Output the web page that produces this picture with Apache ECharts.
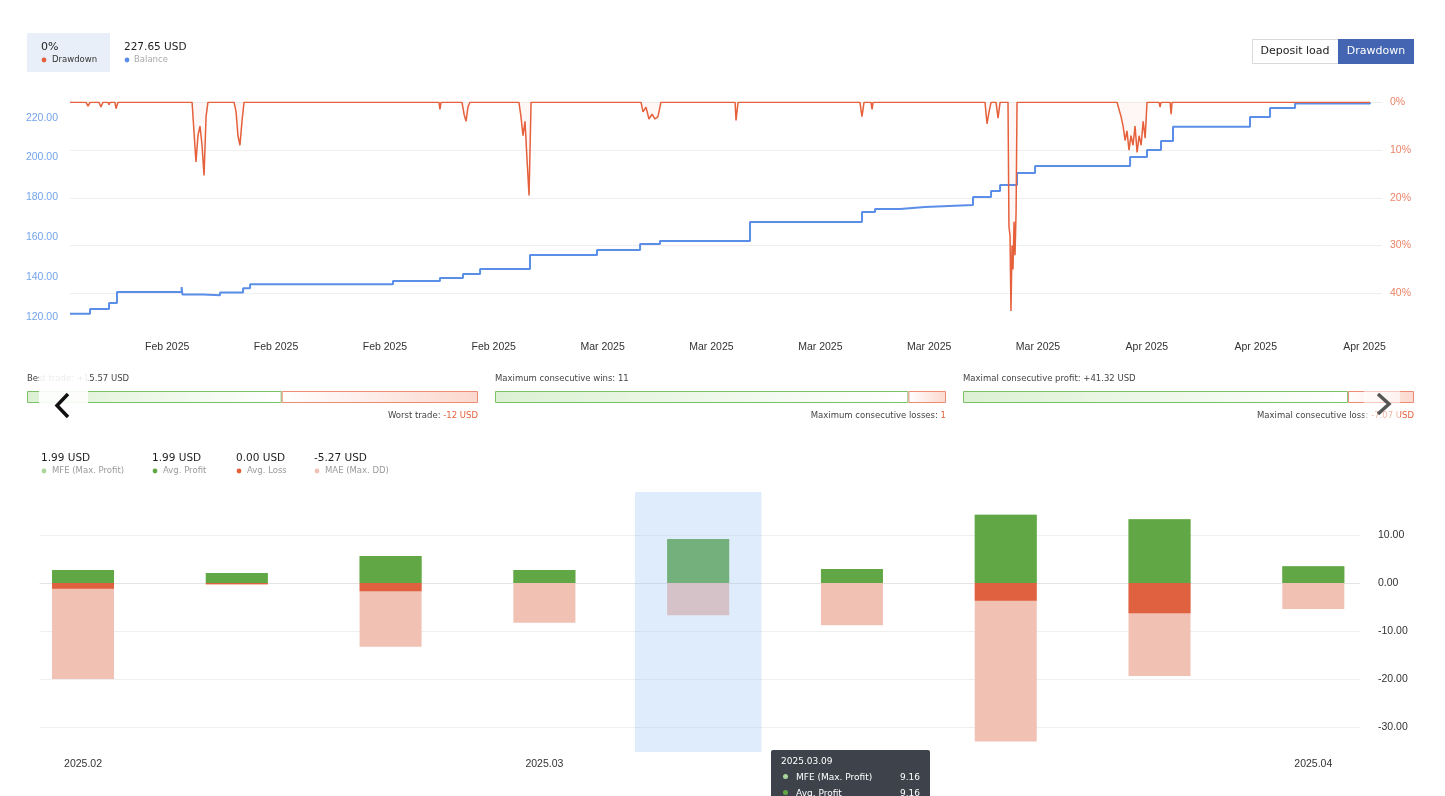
<!DOCTYPE html>
<html lang="en" style="height: 100%">
  <head>
    <meta charset="utf-8" />
  </head>
  <body style="height: 100%; margin: 0; overflow: hidden; background: #fff">
    <div id="container" style="height: 100%"></div>
    <script type="text/javascript" src="https://cdn.jsdelivr.net/npm/echarts@6/dist/echarts.min.js"></script>
    <script type="text/javascript">
      const dom = document.getElementById('container')
      const myChart = echarts.init(dom, null, { renderer: 'canvas' })

      const RED = '#e5603b'
      const BLUE = '#5a8ee8'
      const GREEN = '#62a745'
      const LIGHT_GREEN = '#a9d699'
      const PINK = '#f1c1b4'
      const UI_FONT = 'DejaVu Sans'
      const AXIS_FONT = 'Liberation Sans'

      // ---- balance / drawdown (x = day of 2025, Jan 1 = 1) ----
      const balanceSteps = [
        [26.75, 121.5], [28.04, 123.9], [29.26, 126.9], [29.77, 132.4], [33.93, 134.9], [33.98, 131.1],
        [35.3, 130.8], [36.4, 132.1], [37.88, 134.3], [38.33, 136.3], [47.52, 138.0], [50.54, 139.4],
        [52.02, 141.5], [53.12, 144.0], [56.33, 151.0], [60.64, 153.5], [63.41, 156.5], [64.69, 158.0],
        [70.48, 167.6], [77.68, 172.6], [78.52, 174.1], [80.13, 175.1], [81.73, 176.1], [84.82, 180.2],
        [85.98, 183.2], [86.56, 186.2], [87.65, 192.2], [88.81, 195.7], [94.92, 200.3], [96.01, 203.8],
        [96.91, 208.3], [97.68, 215.4], [102.63, 220.4], [103.92, 224.9], [105.53, 227.1], [110.35, 227.65]
      ]
      const drawdownPoints = [
        [26.75, 0], [27.78, 0], [27.91, 0.8], [28.04, 0], [28.61, 0], [28.74, 1.0], [28.87, 0],
        [29.19, 0], [29.26, 0.5], [29.32, 0], [29.64, 0], [29.71, 1.3], [29.84, 0],
        [34.6, 0], [34.72, 6], [34.85, 12.5], [34.98, 7], [35.11, 5], [35.24, 9], [35.37, 15.3], [35.5, 3], [35.62, 0],
        [37.3, 0], [37.43, 2], [37.55, 7], [37.68, 9], [37.81, 4], [37.94, 0],
        [50.48, 0], [50.54, 1.5], [50.61, 0],
        [51.96, 0], [52.09, 2.5], [52.22, 4], [52.34, 1], [52.47, 0],
        [55.62, 0], [55.75, 3], [55.88, 7], [56.01, 4], [56.14, 12], [56.27, 19.5], [56.4, 0],
        [63.47, 0], [63.6, 2], [63.79, 1], [63.98, 3.5], [64.18, 2.5], [64.37, 3.5], [64.56, 3], [64.75, 0],
        [69.52, 0], [69.58, 3.8], [69.71, 0],
        [77.55, 0], [77.68, 3], [77.81, 0],
        [78.26, 0], [78.33, 1.5], [78.39, 0],
        [85.59, 0], [85.72, 4.5], [85.85, 2], [85.98, 0],
        [86.3, 0], [86.43, 3.3], [86.56, 0],
        [87.07, 0], [87.13, 26], [87.2, 28], [87.26, 43.7], [87.33, 30], [87.39, 35], [87.46, 25], [87.52, 32], [87.59, 23], [87.65, 0],
        [94.08, 0], [94.21, 1.5], [94.34, 3], [94.47, 5], [94.6, 8], [94.72, 6], [94.85, 10], [94.98, 7], [95.11, 9],
        [95.24, 5], [95.37, 10.5], [95.5, 7], [95.63, 9], [95.76, 4], [95.89, 7.5], [96.01, 0],
        [96.78, 0], [96.85, 1], [96.91, 0],
        [97.49, 0], [97.56, 2.5], [97.62, 0],
        [110.35, 0]
      ]
      const topLabelDays = [33, 40, 47, 54, 61, 68, 75, 82, 89, 96, 103, 110]
      const balanceTicks = [120, 140, 160, 180, 200, 220]
      const drawdownTicks = [0, 10, 20, 30, 40]

      // ---- weekly results ----
      const weeks = ['2025-02-09', '2025-02-16', '2025-02-23', '2025-03-02', '2025-03-09', '2025-03-16', '2025-03-23', '2025-03-30', '2025-04-06']
      const mfe = [2.7, 2.1, 5.6, 2.7, 9.16, 2.9, 14.2, 13.3, 3.5]
      const avgProfit = [2.7, 2.1, 5.6, 2.7, 9.16, 2.9, 14.2, 13.3, 3.5]
      const avgLoss = [-1.2, -0.2, -1.7, 0, 0, 0, -3.7, -6.3, 0]
      const mae = [-20.0, -0.4, -13.3, -8.3, -6.7, -8.8, -33.0, -19.4, -5.4]
      const weekLabelDates = ['2025-02-09', '2025-03-02', '2025-04-06']
      const resultTicks = [-30, -20, -10, 0, 10]
      const highlightRange = ['2025-03-06T03:00', '2025-03-11T21:00']
      const highlightIndex = 4

      // ---- ratio strip ----
      const ratioGood = [15.57, 11, 41.32]
      const ratioBad = [12, 1, 7.07]
      const ratioTopText = ['Best trade: +15.57 USD', 'Maximum consecutive wins: 11', 'Maximal consecutive profit: +41.32 USD']
      const ratioBottomText = ['Worst trade: ', 'Maximum consecutive losses: ', 'Maximal consecutive loss: ']
      const ratioBottomValue = ['-12 USD', '1', '-7.07 USD']

      const stripLeft = [27, 495, 963]
      const stripWidth = 451

      const monthNames = ['Jan', 'Feb', 'Mar', 'Apr', 'May', 'Jun', 'Jul', 'Aug', 'Sep', 'Oct', 'Nov', 'Dec']
      // day of year <-> date (x axes are measured in days of 2025)
      const dayToDate = (d) => new Date(2025, 0, 1, Math.round((d - 1) * 24))
      const dateToDay = (s) => {
        const t = new Date(s.length === 10 ? s + 'T00:00' : s)
        return 1 + (t.getTime() - new Date(2025, 0, 1).getTime()) / 86400000
      }

      const txt = (x, y, text, size, fill, extra) => ({
        type: 'text',
        x: x,
        y: y,
        z: 120,
        style: Object.assign({ text: text, fontSize: size, fontFamily: UI_FONT, fill: fill, verticalAlign: 'middle' }, extra || {}),
      })
      const dot = (cx, cy, color) => ({ type: 'circle', z: 120, shape: { cx: cx, cy: cy, r: 2.4 }, style: { fill: color } })

      const graphic = [
        // summary at top-left
        { type: 'rect', z: 110, shape: { x: 27, y: 33, width: 83, height: 39 }, style: { fill: '#e9eff8' } },
        txt(41, 47, '0%', 11, '#1e1e1e'),
        dot(44, 60, RED),
        txt(52, 60, 'Drawdown', 8.5, '#333'),
        txt(124, 47, '227.65 USD', 10.5, '#1e1e1e'),
        dot(127, 60, BLUE),
        txt(134, 60, 'Balance', 8.5, '#aaa'),
        // switch buttons
        { type: 'rect', z: 110, shape: { x: 1252.5, y: 39.5, width: 86, height: 24 }, style: { fill: '#fff', stroke: '#d9d9d9', lineWidth: 1 } },
        txt(1295, 51.5, 'Deposit load', 11, '#222', { align: 'center' }),
        { type: 'rect', z: 110, shape: { x: 1338, y: 39, width: 76, height: 25 }, style: { fill: '#4465b1' } },
        txt(1376, 51.5, 'Drawdown', 11, '#fff', { align: 'center' }),
        // bottom legend
        txt(41, 458, '1.99 USD', 10.5, '#1e1e1e'),
        dot(44, 471, LIGHT_GREEN),
        txt(52, 471, 'MFE (Max. Profit)', 8.5, '#9a9a9a'),
        txt(152, 458, '1.99 USD', 10.5, '#1e1e1e'),
        dot(155, 471, GREEN),
        txt(163, 471, 'Avg. Profit', 8.5, '#9a9a9a'),
        txt(236, 458, '0.00 USD', 10.5, '#1e1e1e'),
        dot(239, 471, RED),
        txt(247, 471, 'Avg. Loss', 8.5, '#9a9a9a'),
        txt(314, 458, '-5.27 USD', 10.5, '#1e1e1e'),
        dot(317, 471, PINK),
        txt(325, 471, 'MAE (Max. DD)', 8.5, '#9a9a9a'),
      ]

      stripLeft.forEach((left, k) => {
        graphic.push(txt(left, 379, ratioTopText[k], 8.5, '#444'))
        graphic.push({
          type: 'text',
          x: left + stripWidth,
          y: 416,
          z: 120,
          style: {
            text: '{a|' + ratioBottomText[k] + '}{b|' + ratioBottomValue[k] + '}',
            align: 'right',
            verticalAlign: 'middle',
            rich: {
              a: { fontSize: 8.5, fontFamily: UI_FONT, fill: '#444' },
              b: { fontSize: 8.5, fontFamily: UI_FONT, fill: RED },
            },
          },
        })
      })

      // carousel arrows laid over the strip
      graphic.push(
        { type: 'rect', z: 130, shape: { x: 39, y: 370, width: 49, height: 58 }, style: { fill: 'rgba(255,255,255,0.9)' } },
        { type: 'polyline', z: 131, shape: { points: [[68, 394], [57, 405.5], [68, 417]] }, style: { stroke: '#111', lineWidth: 3.5, fill: null } },
        { type: 'rect', z: 130, shape: { x: 1364, y: 386, width: 36, height: 36 }, style: { fill: 'rgba(255,255,255,0.55)' } },
        { type: 'polyline', z: 131, shape: { points: [[1378, 394], [1389, 404], [1378, 414]] }, style: { stroke: '#555', lineWidth: 3.5, fill: null } }
      )

      const grids = [
        { left: 70, top: 102.3, width: 1312, height: 214.9 },
        { left: 40, top: 492, width: 1320, height: 260 },
      ]
      const xAxes = [
        {
          type: 'value',
          gridIndex: 0,
          min: 26.75,
          max: 111.12,
          axisLine: { show: false },
          axisTick: { show: false, customValues: topLabelDays },
          splitLine: { show: false },
          axisLabel: {
            customValues: topLabelDays,
            formatter: (v) => {
              const d = dayToDate(v)
              return monthNames[d.getMonth()] + ' ' + d.getFullYear()
            },
            color: '#333',
            fontSize: 10.5,
            fontFamily: AXIS_FONT,
            margin: 24,
          },
        },
        {
          type: 'value',
          gridIndex: 1,
          min: dateToDay('2025-02-07T01:00'),
          max: dateToDay('2025-04-08T03:00'),
          axisLine: { lineStyle: { color: '#e4e4e4' } },
          axisTick: { show: false, customValues: weekLabelDates.map(dateToDay) },
          splitLine: { show: false },
          axisLabel: {
            customValues: weekLabelDates.map(dateToDay),
            formatter: (v) => {
              const d = dayToDate(v)
              return d.getFullYear() + '.' + String(d.getMonth() + 1).padStart(2, '0')
            },
            color: '#333',
            fontSize: 10.5,
            fontFamily: AXIS_FONT,
            margin: 7,
          },
        },
      ]
      const yAxes = [
        {
          type: 'value',
          gridIndex: 0,
          position: 'left',
          min: 119.75,
          max: 227.74,
          axisLine: { show: false },
          axisTick: { show: false, customValues: balanceTicks },
          splitLine: { show: false },
          axisLabel: {
            customValues: balanceTicks,
            formatter: (v) => v.toFixed(2),
            color: '#74a3ec',
            fontSize: 10.5,
            fontFamily: AXIS_FONT,
            margin: 12,
          },
        },
        {
          type: 'value',
          gridIndex: 0,
          position: 'right',
          inverse: true,
          min: 0,
          max: 45,
          axisLine: { show: false },
          axisTick: { show: false, customValues: drawdownTicks },
          splitLine: { lineStyle: { color: '#efefef' } },
          axisLabel: {
            customValues: drawdownTicks,
            formatter: '{value}%',
            color: '#eb8467',
            fontSize: 10.5,
            fontFamily: AXIS_FONT,
            margin: 8,
          },
        },
        {
          type: 'value',
          gridIndex: 1,
          position: 'right',
          min: -35.21,
          max: 18.96,
          axisLine: { show: false },
          axisTick: { show: false, customValues: resultTicks },
          splitLine: { lineStyle: { color: '#efefef' } },
          axisLabel: {
            customValues: resultTicks,
            formatter: (v) => v.toFixed(2),
            color: '#333',
            fontSize: 10.5,
            fontFamily: AXIS_FONT,
            margin: 18,
          },
        },
      ]

      const weekDays = weeks.map(dateToDay)
      const barSeries = (name, values, color) => ({
        name: name,
        type: 'bar',
        xAxisIndex: 1,
        yAxisIndex: 2,
        barWidth: 62,
        barGap: '-100%',
        itemStyle: { color: color },
        data: weekDays.map((d, i) => [d, values[i]]),
      })

      const series = [
        {
          name: 'Balance',
          type: 'line',
          xAxisIndex: 0,
          yAxisIndex: 0,
          step: 'end',
          symbol: 'none',
          z: 4,
          lineStyle: { color: BLUE, width: 2 },
          data: balanceSteps,
        },
        {
          name: 'Drawdown',
          type: 'line',
          xAxisIndex: 0,
          yAxisIndex: 1,
          symbol: 'none',
          z: 5,
          lineStyle: { color: RED, width: 1.5 },
          areaStyle: { color: 'rgba(229,96,59,0.07)' },
          data: drawdownPoints,
        },
        barSeries('MAE (Max. DD)', mae, PINK),
        barSeries('MFE (Max. Profit)', mfe, LIGHT_GREEN),
        barSeries('Avg. Profit', avgProfit, GREEN),
        barSeries('Avg. Loss', avgLoss, '#e0613f'),
        {
          name: 'highlight',
          type: 'line',
          xAxisIndex: 1,
          yAxisIndex: 2,
          z: 10,
          data: [],
          markArea: {
            silent: true,
            z: 10,
            itemStyle: { color: 'rgba(157,195,242,0.32)' },
            data: [[{ xAxis: dateToDay(highlightRange[0]) }, { xAxis: dateToDay(highlightRange[1]) }]],
          },
        },
      ]

      stripLeft.forEach((left, k) => {
        grids.push({ left: left, top: 391, width: stripWidth, height: 12 })
        xAxes.push({ type: 'value', gridIndex: k + 2, min: 0, max: ratioGood[k] + ratioBad[k], show: false })
        yAxes.push({ type: 'category', gridIndex: k + 2, data: ['r'], show: false })
        series.push(
          {
            type: 'bar',
            xAxisIndex: k + 2,
            yAxisIndex: k + 3,
            stack: 'ratio' + k,
            barWidth: 12,
            silent: true,
            itemStyle: {
              color: { type: 'linear', x: 0, y: 0, x2: 1, y2: 0, colorStops: [{ offset: 0, color: '#dcf1d3' }, { offset: 1, color: '#ffffff' }] },
              borderColor: '#7cc169',
              borderWidth: 1,
            },
            data: [ratioGood[k]],
          },
          {
            type: 'bar',
            xAxisIndex: k + 2,
            yAxisIndex: k + 3,
            stack: 'ratio' + k,
            barWidth: 12,
            silent: true,
            itemStyle: {
              color: { type: 'linear', x: 0, y: 0, x2: 1, y2: 0, colorStops: [{ offset: 0, color: '#ffffff' }, { offset: 1, color: '#fbd8ce' }] },
              borderColor: '#ec8b76',
              borderWidth: 1,
            },
            data: [ratioBad[k]],
          }
        )
      })

      const tipRows = [
        ['MFE (Max. Profit)', mfe, LIGHT_GREEN],
        ['Avg. Profit', avgProfit, GREEN],
        ['Avg. Loss', avgLoss, RED],
        ['MAE (Max. DD)', mae, PINK],
      ]

      const option = {
        animation: false,
        grid: grids,
        xAxis: xAxes,
        yAxis: yAxes,
        graphic: graphic,
        tooltip: {
          trigger: 'item',
          triggerOn: 'none',
          alwaysShowContent: true,
          position: [771, 750],
          transitionDuration: 0,
          backgroundColor: '#3d424b',
          borderWidth: 0,
          padding: [3, 10],
          textStyle: { color: '#fff', fontSize: 9, fontFamily: UI_FONT },
          extraCssText: 'width:139px;border-radius:2px;box-shadow:none;',
          formatter: (p) => {
            const i = p.dataIndex
            let s = '<div style="line-height:16px">' + weeks[i].replace(/-/g, '.') + '</div>'
            tipRows.forEach((r) => {
              s +=
                '<div style="display:flex;justify-content:space-between;line-height:16px"><span>' +
                '<span style="display:inline-block;width:5px;height:5px;border-radius:50%;background:' + r[2] + ';margin:0 8px 1px 2px"></span>' +
                r[0] + '</span><span>' + r[1][i].toFixed(2) + '</span></div>'
            })
            return s
          },
        },
        series: series,
      }

      myChart.setOption(option)
      myChart.dispatchAction({ type: 'showTip', seriesIndex: 4, dataIndex: highlightIndex })

      window.addEventListener('resize', myChart.resize)
    </script>
  </body>
</html>
